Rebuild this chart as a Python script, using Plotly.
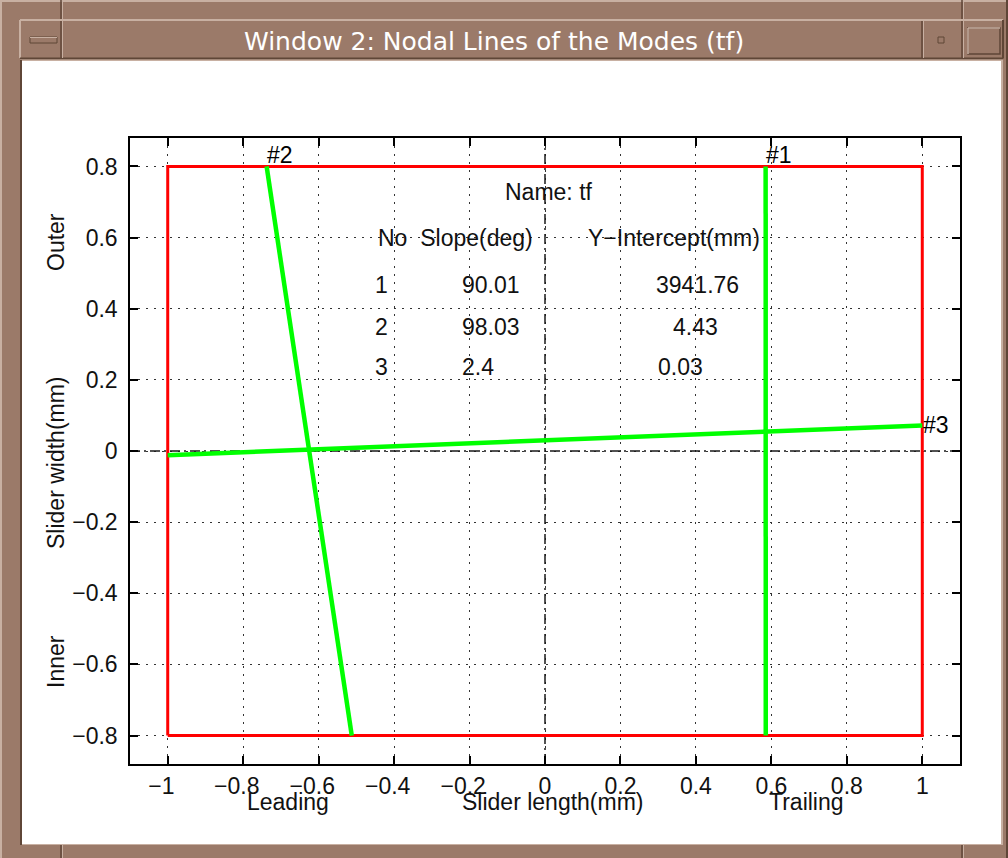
import numpy as np
import plotly.graph_objects as go

# ---- nodal-line table printed on the chart ----
mode_no = [1, 2, 3]
slope_deg = [90.01, 98.03, 2.4]
intercept_mm = [3941.76, 4.43, 0.03]
line_tags = ["#1", "#2", "#3"]
# a point on each nodal line in slider coordinates (mm)
anchor_x = [0.585, -0.625, 0.0]
anchor_y = [0.0, 0.0, 0.03]

# slider outline (mm)
slider_x = [-1, 1, 1, -1, -1]
slider_y = [-0.8, -0.8, 0.8, 0.8, -0.8]

# axis ticks
x_ticks = [-1.0, -0.8, -0.6, -0.4, -0.2, 0.0, 0.2, 0.4, 0.6, 0.8, 1.0]
y_ticks = [-0.8, -0.6, -0.4, -0.2, 0.0, 0.2, 0.4, 0.6, 0.8]
x_range = [-1.1, 1.1]
y_range = [-0.88, 0.88]

W, H = 1008, 858
# plot area in pixels
L, R, T, B = 130, 960, 138, 764
PW, PH = R - L, B - T

FONT = "Liberation Sans, Arial, Helvetica, sans-serif"
BROWN = "#9b7a69"
LIGHT = "#c8b0a2"
DARK = "#5f4637"


def px(x):
    return (x - L) / PW


def py(y):
    return (B - y) / PH


def tick_label(v):
    s = f"{v:g}".replace("-", "\u2212")
    # negative labels sit a little left of their tick, as in the X11 renderer
    return s + "\u00a0\u00a0" if v < 0 else s


def nodal_segment(deg, ax, ay):
    """Clip the line through (ax, ay) with the given angle to the slider outline."""
    m = np.tan(np.radians(deg))
    if abs(m) > 1:
        ys = np.array([min(slider_y), max(slider_y)])
        xs = ax + (ys - ay) / m
    else:
        xs = np.array([min(slider_x), max(slider_x)])
        ys = ay + m * (xs - ax)
    return xs, ys


fig = go.Figure()

# dash-dot centre lines
fig.add_trace(go.Scatter(x=x_range, y=[0, 0], mode="lines",
                         line=dict(color="#1a1a1a", width=1.5, dash="10px,4px,2px,4px"),
                         hoverinfo="skip", showlegend=False))
fig.add_trace(go.Scatter(x=[0, 0], y=y_range, mode="lines",
                         line=dict(color="#1a1a1a", width=1.5, dash="10px,4px,2px,4px"),
                         hoverinfo="skip", showlegend=False))

# slider outline
fig.add_trace(go.Scatter(x=slider_x, y=slider_y, mode="lines",
                         line=dict(color="#ff0000", width=3),
                         hoverinfo="skip", showlegend=False))

# nodal lines
ends = []
for deg, ax, ay in zip(slope_deg, anchor_x, anchor_y):
    xs, ys = nodal_segment(deg, ax, ay)
    ends.append((xs, ys))
    fig.add_trace(go.Scatter(x=xs, y=ys, mode="lines",
                             line=dict(color="#00ff00", width=4.5),
                             hoverinfo="skip", showlegend=False))

annotations = []

# line tags at the line ends
for tag, (xs, ys) in zip(line_tags, ends):
    if abs(xs[1] - xs[0]) > abs(ys[1] - ys[0]):
        i = int(np.argmax(xs))
        annotations.append(dict(x=xs[i], y=ys[i], text=tag, showarrow=False,
                                xanchor="left", yanchor="middle", xshift=-1,
                                font=dict(family=FONT, size=23, color="black")))
    else:
        i = int(np.argmax(ys))
        annotations.append(dict(x=xs[i], y=ys[i], text=tag, showarrow=False,
                                xanchor="left", yanchor="bottom", xshift=-2, yshift=-4,
                                font=dict(family=FONT, size=23, color="black")))

# table text
tfont = dict(family=FONT, size=23, color="#111111")
annotations.append(dict(x=0.01, y=0.727, text="Name: tf", showarrow=False,
                        xanchor="center", yanchor="middle", font=tfont))
annotations.append(dict(x=-0.447, y=0.60, text="No  Slope(deg)", showarrow=False,
                        xanchor="left", yanchor="middle", font=tfont))
annotations.append(dict(x=0.108, y=0.60, text="Y\u2212Intercept(mm)", showarrow=False,
                        xanchor="left", yanchor="middle", font=tfont))
row_y = [0.468, 0.349, 0.237]
icpt_x = [0.288, 0.333, 0.294]
for n, s, c, ry, ix in zip(mode_no, slope_deg, intercept_mm, row_y, icpt_x):
    annotations.append(dict(x=-0.455, y=ry, text=str(n), showarrow=False,
                            xanchor="left", yanchor="middle", font=tfont))
    annotations.append(dict(x=-0.224, y=ry, text=f"{s:g}", showarrow=False,
                            xanchor="left", yanchor="middle", font=tfont))
    annotations.append(dict(x=ix, y=ry, text=f"{c:g}", showarrow=False,
                            xanchor="left", yanchor="middle", font=tfont))

# axis words
afont = dict(family=FONT, size=23, color="#111111")
for txt, cx in [("Leading", 288), ("Slider length(mm)", 553), ("Trailing", 806)]:
    annotations.append(dict(x=px(cx), y=py(802), xref="paper", yref="paper", text=txt,
                            showarrow=False, xanchor="center", yanchor="middle", font=afont))
for txt, cy in [("Outer", 242), ("Slider width(mm)", 463), ("Inner", 662)]:
    annotations.append(dict(x=px(56), y=py(cy), xref="paper", yref="paper", text=txt,
                            showarrow=False, textangle=-90, xanchor="center", yanchor="middle",
                            font=afont))

# window title
annotations.append(dict(x=px(494), y=py(41), xref="paper", yref="paper",
                        text="Window 2: Nodal Lines of the Modes (tf)", showarrow=False,
                        xanchor="center", yanchor="middle",
                        font=dict(family="DejaVu Sans, Verdana, sans-serif", size=25, color="white")))

# window frame
shapes = []


def rect(x0, y0, x1, y1, fill=None, line=None, lw=0, layer="below"):
    shapes.append(dict(type="rect", xref="paper", yref="paper",
                       x0=px(x0), x1=px(x1), y0=py(y1), y1=py(y0),
                       fillcolor=fill, line=dict(color=line or "rgba(0,0,0,0)", width=lw),
                       layer=layer))


def seg(x0, y0, x1, y1, color, lw=1.5):
    shapes.append(dict(type="line", xref="paper", yref="paper",
                       x0=px(x0), x1=px(x1), y0=py(y0), y1=py(y1),
                       line=dict(color=color, width=lw), layer="below"))


# outer bevel
seg(1, 0, 1, H, LIGHT, 2)
seg(0, 1, W, 1, LIGHT, 2)
seg(W - 1, 0, W - 1, H, DARK, 2)
# corner grips on the frame
for gx in (61, 962):
    seg(gx, 0, gx, 19, DARK, 1.5)
    seg(gx + 1.5, 0, gx + 1.5, 19, LIGHT, 1)
    seg(gx, H - 14, gx, H, DARK, 1.5)
    seg(gx + 1.5, H - 14, gx + 1.5, H, LIGHT, 1)
# title bar
seg(20, 20, 1003, 20, LIGHT, 2)
seg(20, 20, 20, 58, LIGHT, 2)
seg(20, 58.5, 1003, 58.5, DARK, 2)
seg(1003, 20, 1003, 58.5, DARK, 2)
for gx in (61, 922, 962):
    seg(gx, 21, gx, 58, DARK, 1.5)
    seg(gx + 1.5, 21, gx + 1.5, 58, LIGHT, 1)
# title bar buttons
rect(30, 37, 57, 43, fill=BROWN, line=DARK, lw=1)
seg(30, 37.5, 57, 37.5, LIGHT, 1)
rect(938, 37, 944, 43, fill=BROWN, line=DARK, lw=1)
rect(968, 28, 1000, 54, fill=BROWN, line=DARK, lw=1.5)
seg(968, 28, 1000, 28, LIGHT, 1.5)
seg(968, 28, 968, 54, LIGHT, 1.5)
# client area
rect(20, 59.5, 1003, 845, fill=LIGHT)
rect(22, 61, 1001, 844, fill="white")
seg(21, 60, 21, 845, DARK, 2)

fig.update_layout(
    width=W, height=H,
    margin=dict(l=L, r=W - R, t=T, b=H - B, pad=0),
    paper_bgcolor=BROWN,
    plot_bgcolor="white",
    showlegend=False,
    annotations=annotations,
    shapes=shapes,
    font=dict(family=FONT, size=23, color="#111111"),
)

axis_common = dict(
    showline=True, linecolor="black", linewidth=1.5, mirror="ticks",
    ticks="inside", ticklen=8, tickwidth=1.5, tickcolor="black",
    showgrid=True, gridcolor="#333333", gridwidth=1.2, griddash="2px,6px",
    zeroline=False, fixedrange=True,
    tickfont=dict(family=FONT, size=23, color="#111111"),
)
fig.update_xaxes(range=x_range, tickvals=x_ticks, ticktext=[tick_label(v) for v in x_ticks],
                 ticklabelstandoff=1, **axis_common)
fig.update_yaxes(range=y_range, tickvals=y_ticks, ticklabelstandoff=6, **axis_common)

fig.write_html("out.html")
